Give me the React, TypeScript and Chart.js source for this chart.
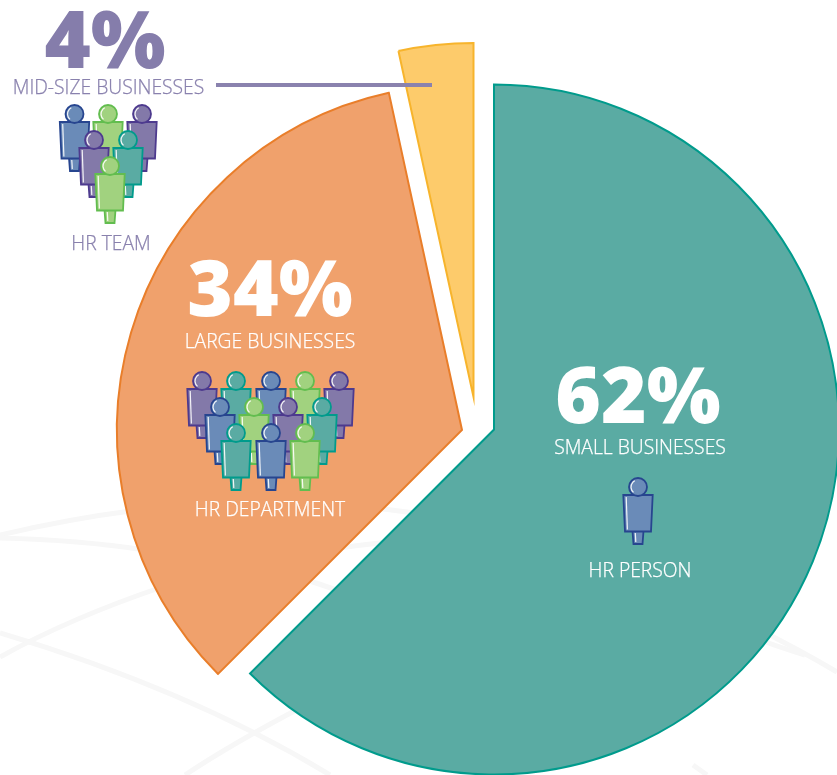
import React, { useEffect, useRef } from "react";
import { Chart, registerables } from "chart.js";

Chart.register(...registerables);

const categories = ["Small businesses", "Large businesses", "Mid-size businesses"];
const sliceShares = [62.5, 34.1, 3.4];
const percentLabels = ["62%", "34%", "4%"];
const segmentLabels = ["SMALL BUSINESSES", "LARGE BUSINESSES", "MID-SIZE BUSINESSES"];
const hrLabels = ["HR PERSON", "HR DEPARTMENT", "HR TEAM"];

const sliceFills = ["#5aaba3", "#f0a16c", "#fdcb6b"];
const sliceBorders = ["#009b8c", "#e97e2a", "#f7b42c"];
// Each slice of this exploded pie has its own apex and radius.
const sliceApexX = [494, 462, 473.5];
const sliceApexY = [429.5, 430, 397];
const sliceRadii = [345, 345, 354];

const WHITE = "#ffffff";
const PURPLE_TEXT = "#8a82ae";
const percentPos = [
  { x: 638, y: 423, size: 78, color: WHITE },
  { x: 270, y: 316, size: 78, color: WHITE },
  { x: 105, y: 68, size: 79, color: "#857dab" },
];
const segmentPos = [
  { x: 640, y: 453.5, color: WHITE },
  { x: 270, y: 347.5, color: WHITE },
  { x: 108.5, y: 93.5, color: PURPLE_TEXT },
];
const hrPos = [
  { x: 640, y: 576.5, color: WHITE },
  { x: 270, y: 515.5, color: WHITE },
  { x: 111, y: 249.5, color: PURPLE_TEXT },
];

const peopleColors: Record<string, [string, string]> = {
  blue: ["#6a8bb8", "#27458f"],
  green: ["#a1d27f", "#62bd4f"],
  purple: ["#8379a9", "#4d3a8e"],
  teal: ["#5aaba3", "#009b8c"],
};
const people: [number, number, string][] = [
  [638, 487, "blue"],
  [74.5, 114, "blue"], [108, 114, "green"], [142, 114, "purple"],
  [94, 140, "purple"], [128, 140, "teal"], [110, 166, "green"],
  [202, 381, "purple"], [236, 381, "teal"], [271, 381, "blue"], [305, 381, "green"], [339, 381, "purple"],
  [220, 407, "blue"], [254, 407, "green"], [288, 407, "purple"], [322, 407, "teal"],
  [236, 433, "teal"], [271, 433, "blue"], [305, 433, "green"],
];

// Faint globe lines behind the pie: [x0, y0, cx, cy, x1, y1]
const globeCurves = [
  [0, 535, 150, 500, 270, 503],
  [270, 503, 350, 503, 430, 515],
  [0, 538, 80, 540, 145, 550],
  [340, 548, 380, 542, 420, 540],
  [0, 657, 70, 618, 165, 586],
  [300, 578, 320, 584, 345, 593],
  [0, 633, 190, 690, 330, 775],
  [185, 775, 230, 745, 300, 708],
  [750, 625, 800, 650, 837, 672],
  [750, 636, 775, 646, 805, 655],
  [693, 765, 700, 770, 707, 775],
];

function drawPerson(ctx: CanvasRenderingContext2D, x: number, y: number, colorKey: string) {
  const [fill, stroke] = peopleColors[colorKey];
  ctx.save();
  ctx.lineWidth = 1.8;
  ctx.lineJoin = "miter";
  ctx.fillStyle = fill;
  ctx.strokeStyle = stroke;
  // legs
  ctx.beginPath();
  ctx.moveTo(x - 5.5, y + 44);
  ctx.lineTo(x + 5.5, y + 44);
  ctx.lineTo(x + 4.5, y + 57);
  ctx.lineTo(x - 4.5, y + 57);
  ctx.closePath();
  ctx.fill();
  ctx.stroke();
  // torso
  ctx.beginPath();
  ctx.moveTo(x - 14.7, y + 8);
  ctx.lineTo(x + 14.7, y + 8);
  ctx.lineTo(x + 13, y + 44.5);
  ctx.lineTo(x - 13, y + 44.5);
  ctx.closePath();
  ctx.fill();
  ctx.stroke();
  // head
  ctx.beginPath();
  ctx.arc(x, y, 9, 0, Math.PI * 2);
  ctx.fill();
  ctx.stroke();
  // highlights
  ctx.strokeStyle = "rgba(255,255,255,0.9)";
  ctx.lineWidth = 1.2;
  ctx.beginPath();
  ctx.moveTo(x - 11.8, y + 10);
  ctx.lineTo(x - 10.6, y + 42.5);
  ctx.stroke();
  ctx.beginPath();
  ctx.moveTo(x - 2.7, y + 46);
  ctx.lineTo(x - 2.2, y + 55);
  ctx.stroke();
  ctx.beginPath();
  ctx.arc(x, y, 7, Math.PI * 0.72, Math.PI * 1.35);
  ctx.stroke();
  ctx.restore();
}

const slicePlacement = {
  id: "slicePlacement",
  afterDatasetsUpdate(chart: Chart) {
    chart.getDatasetMeta(0).data.forEach((arc: any, i: number) => {
      arc.x = sliceApexX[i];
      arc.y = sliceApexY[i];
      arc.outerRadius = sliceRadii[i];
      arc.innerRadius = 0;
    });
  },
};

const globeBackground = {
  id: "globeBackground",
  beforeDatasetsDraw(chart: Chart) {
    const ctx = chart.ctx;
    ctx.save();
    ctx.strokeStyle = "#f7f7f7";
    ctx.lineWidth = 5;
    ctx.lineCap = "butt";
    globeCurves.forEach(([x0, y0, cx, cy, x1, y1]) => {
      ctx.beginPath();
      ctx.moveTo(x0, y0);
      ctx.quadraticCurveTo(cx, cy, x1, y1);
      ctx.stroke();
    });
    ctx.restore();
  },
};

const annotations = {
  id: "annotations",
  afterDatasetsDraw(chart: Chart) {
    const ctx = chart.ctx;
    ctx.save();
    // leader line from the yellow slice to its label
    ctx.strokeStyle = "#8a82ae";
    ctx.lineWidth = 4;
    ctx.beginPath();
    ctx.moveTo(216, 85);
    ctx.lineTo(432, 85);
    ctx.stroke();

    people.forEach(([x, y, c]) => drawPerson(ctx, x, y, c));

    ctx.textAlign = "center";
    ctx.textBaseline = "alphabetic";
    percentLabels.forEach((t, i) => {
      const p = percentPos[i];
      ctx.font = `800 ${p.size}px "Open Sans"`;
      ctx.fillStyle = p.color;
      ctx.fillText(t, p.x, p.y);
    });
    ctx.font = `300 19.3px "Open Sans"`;
    ctx.lineWidth = 0.25;
    [...segmentLabels.map((t, i) => [t, segmentPos[i]] as const), ...hrLabels.map((t, i) => [t, hrPos[i]] as const)].forEach(([t, p]) => {
      ctx.fillStyle = p.color;
      ctx.strokeStyle = p.color;
      ctx.fillText(t, p.x, p.y);
      ctx.strokeText(t, p.x, p.y);
    });
    ctx.restore();
  },
};

export default function App() {
  const ref = useRef<HTMLCanvasElement>(null);
  useEffect(() => {
    document.body.style.margin = "0";
    const chart = new Chart(ref.current!, {
      type: "pie",
      data: {
        labels: categories,
        datasets: [
          {
            data: sliceShares,
            backgroundColor: sliceFills,
            borderColor: sliceBorders,
            borderWidth: 2,
            borderJoinStyle: "miter",
            clip: false,
          } as any,
        ],
      },
      options: {
        responsive: false,
        animation: false,
        events: [],
        rotation: 0,
        layout: { padding: 0 },
        plugins: { legend: { display: false }, tooltip: { enabled: false } },
      },
      plugins: [slicePlacement, globeBackground, annotations],
    });
    return () => chart.destroy();
  }, []);
  return (
    <div style={{ width: 837, height: 775, position: "relative", overflow: "hidden", background: "#fff" }}>
      <canvas ref={ref} width={837} height={775} style={{ display: "block" }} />
    </div>
  );
}
